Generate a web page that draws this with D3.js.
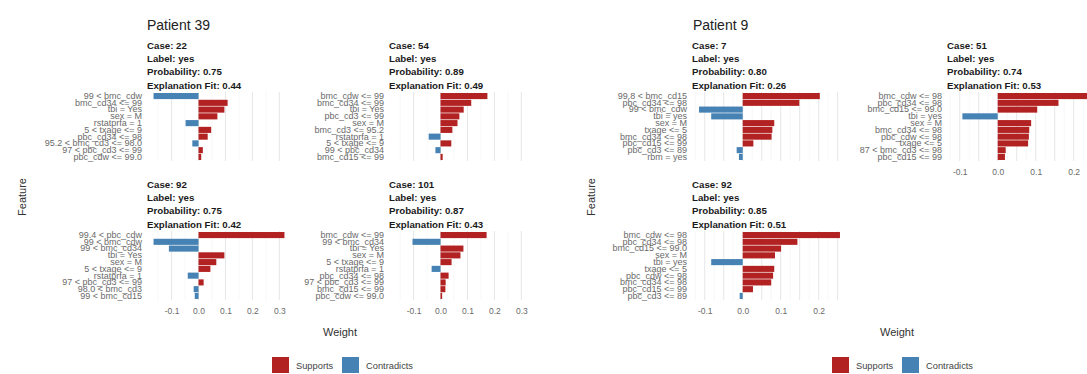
<!DOCTYPE html>
<html>
<head>
<meta charset="utf-8">
<script src="https://cdn.jsdelivr.net/npm/d3@7"></script>
<style>
  html, body { margin: 0; padding: 0; background: #fff; }
  svg { display: block; font-family: "Liberation Sans", Arial, sans-serif; }
</style>
</head>
<body>
<svg id="chart" width="1087" height="374"></svg>
<script>
// ---- LIME feature weights, one facet per explained case ----
const case22Features = ["99 < bmc_cdw", "bmc_cd34 <= 99", "tbi = Yes", "sex = M", "rstatprfa = 1",
  "5 < txage <= 9", "pbc_cd34 <= 98", "95.2 < bmc_cd3 <= 98.0", "97 < pbc_cd3 <= 99", "pbc_cdw <= 99.0"];
const case22Weights = [-0.167, 0.108, 0.096, 0.070, -0.048, 0.047, 0.034, -0.023, 0.016, 0.010];

const case54Features = ["bmc_cdw <= 99", "bmc_cd34 <= 99", "tbi = Yes", "pbc_cd3 <= 99", "sex = M",
  "bmc_cd3 <= 95.2", "rstatprfa = 1", "5 < txage <= 9", "99 < pbc_cd34", "bmc_cd15 <= 99"];
const case54Weights = [0.174, 0.114, 0.086, 0.070, 0.063, 0.044, -0.044, 0.040, -0.019, 0.008];

const case92aFeatures = ["99.4 < pbc_cdw", "99 < bmc_cdw", "99 < bmc_cd34", "tbi = Yes", "sex = M",
  "5 < txage <= 9", "rstatprfa = 1", "97 < pbc_cd3 <= 99", "98.0 < bmc_cd3", "99 < bmc_cd15"];
const case92aWeights = [0.319, -0.167, -0.110, 0.096, 0.066, 0.044, -0.040, 0.019, -0.018, -0.014];

const case101Features = ["bmc_cdw <= 99", "99 < bmc_cd34", "tbi = Yes", "sex = M", "5 < txage <= 9",
  "rstatprfa = 1", "pbc_cd34 <= 98", "97 < pbc_cd3 <= 99", "bmc_cd15 <= 99", "pbc_cdw <= 99.0"];
const case101Weights = [0.171, -0.104, 0.085, 0.074, 0.041, -0.033, 0.030, 0.019, 0.018, 0.006];

const case7Features = ["99.8 < bmc_cd15", "pbc_cd34 <= 98", "99 < bmc_cdw", "tbi = yes", "sex = M",
  "txage <= 5", "bmc_cd34 <= 98", "pbc_cd15 <= 99", "pbc_cd3 <= 89", "rbm = yes"];
const case7Weights = [0.203, 0.149, -0.115, -0.083, 0.083, 0.078, 0.076, 0.028, -0.016, -0.010];

const case51Features = ["bmc_cdw <= 98", "pbc_cd34 <= 98", "bmc_cd15 <= 99.0", "tbi = yes", "sex = M",
  "bmc_cd34 <= 98", "pbc_cdw <= 98", "txage <= 5", "87 < bmc_cd3 <= 98", "pbc_cd15 <= 99"];
const case51Weights = [0.250, 0.160, 0.104, -0.093, 0.088, 0.083, 0.082, 0.080, 0.021, 0.019];

const case92bFeatures = ["bmc_cdw <= 98", "pbc_cd34 <= 98", "bmc_cd15 <= 99.0", "sex = M", "tbi = yes",
  "txage <= 5", "pbc_cdw <= 98", "bmc_cd34 <= 98", "pbc_cd15 <= 99", "pbc_cd3 <= 89"];
const case92bWeights = [0.256, 0.144, 0.101, 0.085, -0.083, 0.083, 0.080, 0.075, 0.027, -0.008];

// ---- case headers ----
const patient39Cases = ["22", "54", "92", "101"];
const patient39Labels = ["yes", "yes", "yes", "yes"];
const patient39Probability = ["0.75", "0.89", "0.75", "0.87"];
const patient39Fit = ["0.44", "0.49", "0.42", "0.43"];

const patient9Cases = ["7", "51", "92"];
const patient9Labels = ["yes", "yes", "yes"];
const patient9Probability = ["0.80", "0.74", "0.85"];
const patient9Fit = ["0.26", "0.53", "0.51"];

// ---- axis ticks ----
const patient39Ticks = [-0.1, 0.0, 0.1, 0.2, 0.3];
const patient9Ticks = [-0.1, 0.0, 0.1, 0.2];

const legendLabels = ["Supports", "Contradicts"];
const fillColors = ["#B22222", "#4682B4"];

// ---- figure layout ----
const svg = d3.select("#chart");
const panelHeight = 69;
const rowTops = [92, 231];

const patients = [
  {
    title: "Patient 39",
    titleX: 147,
    panelWidth: 144,
    colLefts: [147, 389],
    featureX: 22,
    weightX: 340,
    legendX: 272,
    ticks: patient39Ticks,
    cases: patient39Cases, labels: patient39Labels, probs: patient39Probability, fits: patient39Fit,
    features: [case22Features, case54Features, case92aFeatures, case101Features],
    weights: [case22Weights, case54Weights, case92aWeights, case101Weights]
  },
  {
    title: "Patient 9",
    titleX: 693,
    panelWidth: 155,
    colLefts: [692, 947],
    featureX: 591,
    weightX: 897,
    legendX: 832,
    ticks: patient9Ticks,
    cases: patient9Cases, labels: patient9Labels, probs: patient9Probability, fits: patient9Fit,
    features: [case7Features, case51Features, case92bFeatures],
    weights: [case7Weights, case51Weights, case92bWeights]
  }
];

patients.forEach(p => {
  const g = svg.append("g");

  // shared x domain across facets, expanded by 5% on each side
  const all = p.weights.flat().concat([0]);
  const [lo, hi] = d3.extent(all);
  const pad = (hi - lo) * 0.05;
  const domain = [lo - pad, hi + pad];

  // plot title
  g.append("text")
    .attr("x", p.titleX).attr("y", 30)
    .attr("font-size", 14).attr("fill", "#222")
    .text(p.title);

  const nPanels = p.cases.length;
  p.cases.forEach((c, i) => {
    const col = i % 2, row = Math.floor(i / 2);
    const x0 = p.colLefts[col];
    const y0 = rowTops[row];
    const x = d3.scaleLinear().domain(domain).range([x0, x0 + p.panelWidth]);
    const feats = p.features[i];
    const vals = p.weights[i];
    const y = d3.scaleBand().domain(feats).range([y0, y0 + panelHeight])
      .paddingInner(0.1).paddingOuter(0.15);

    const pg = g.append("g");

    // grid: minor then major vertical lines
    const major = x.ticks(6).filter(t => t >= domain[0] && t <= domain[1]);
    const step = major[1] - major[0];
    const minor = d3.range(Math.ceil(domain[0] / step - 0.5) + 0.5, domain[1] / step, 1)
      .map(k => k * step).filter(t => t >= domain[0] && t <= domain[1]);
    pg.selectAll("line.minor").data(minor).join("line")
      .attr("class", "minor")
      .attr("x1", d => x(d)).attr("x2", d => x(d))
      .attr("y1", y0).attr("y2", y0 + panelHeight)
      .attr("stroke", "#f1f1f1").attr("stroke-width", 0.6);
    pg.selectAll("line.major").data(major).join("line")
      .attr("class", "major")
      .attr("x1", d => x(d)).attr("x2", d => x(d))
      .attr("y1", y0).attr("y2", y0 + panelHeight)
      .attr("stroke", "#e6e6e6").attr("stroke-width", 1);

    // bars
    pg.selectAll("rect.bar").data(vals).join("rect")
      .attr("class", "bar")
      .attr("x", d => Math.min(x(0), x(d)))
      .attr("width", d => Math.abs(x(d) - x(0)))
      .attr("y", (d, j) => y(feats[j]))
      .attr("height", y.bandwidth())
      .attr("fill", d => d >= 0 ? fillColors[0] : fillColors[1]);

    // feature labels (y axis)
    const yAxis = d3.axisLeft(y).tickSize(0).tickPadding(5);
    const ya = pg.append("g").attr("transform", `translate(${x0},0)`).call(yAxis);
    ya.select(".domain").remove();
    ya.selectAll("text").attr("font-size", 9).attr("fill", "#6a6a6a")
      .attr("font-family", "Liberation Sans, Arial, sans-serif");

    // strip header
    const lines = [`Case: ${c}`, `Label: ${p.labels[i]}`, `Probability: ${p.probs[i]}`,
      `Explanation Fit: ${p.fits[i]}`];
    pg.selectAll("text.strip").data(lines).join("text")
      .attr("class", "strip")
      .attr("x", x0)
      .attr("y", (d, k) => y0 - 3.5 - (3 - k) * 13.3)
      .attr("font-size", 9.7).attr("font-weight", "bold").attr("fill", "#1a1a1a")
      .text(d => d);

    // x axis labels on the bottom panel of each column
    const below = i + 2;
    if (below >= nPanels) {
      const xAxis = d3.axisBottom(x).tickValues(p.ticks).tickSize(0).tickPadding(8)
        .tickFormat(d3.format(".1f"));
      const xa = pg.append("g").attr("transform", `translate(0,${y0 + panelHeight})`).call(xAxis);
      xa.select(".domain").remove();
      xa.selectAll("text").attr("font-size", 8.5).attr("fill", "#6a6a6a")
        .attr("font-family", "Liberation Sans, Arial, sans-serif")
        .text(d => d3.format(".1f")(d).replace("\u2212", "-"));
    }
  });

  // axis titles
  g.append("text")
    .attr("transform", `translate(${p.featureX + 4},197) rotate(-90)`)
    .attr("text-anchor", "middle").attr("font-size", 11).attr("fill", "#333")
    .text("Feature");
  g.append("text")
    .attr("x", p.weightX).attr("y", 336)
    .attr("text-anchor", "middle").attr("font-size", 11).attr("fill", "#333")
    .text("Weight");

  // legend
  const lg = g.append("g").attr("transform", `translate(${p.legendX},357)`);
  const offsets = [0, 70];
  legendLabels.forEach((lab, k) => {
    lg.append("rect").attr("x", offsets[k]).attr("y", 0).attr("width", 17).attr("height", 16)
      .attr("fill", fillColors[k]);
    lg.append("text").attr("x", offsets[k] + 24).attr("y", 11.5)
      .attr("font-size", 9.3).attr("fill", "#444").text(lab);
  });
});
</script>
</body>
</html>
